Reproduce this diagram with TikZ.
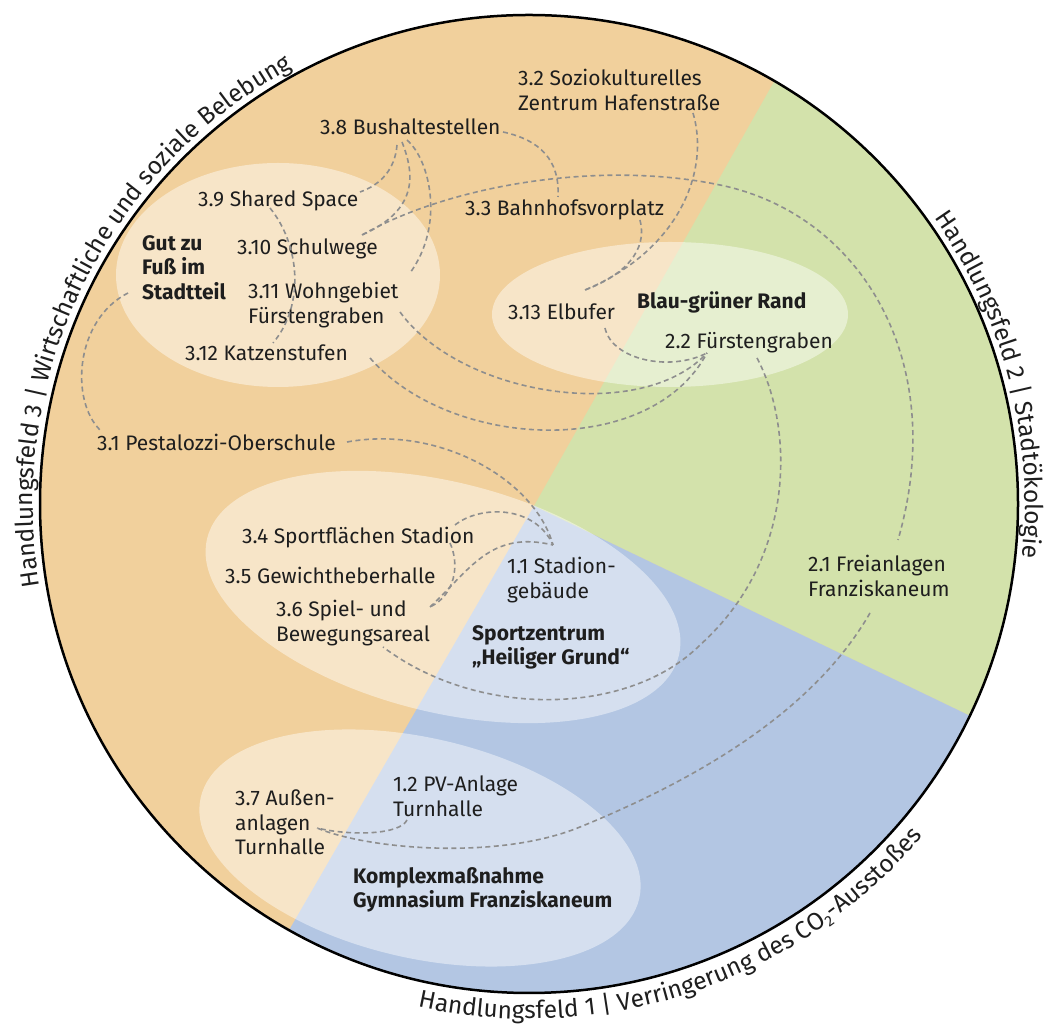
\documentclass[tikz,border=0pt]{standalone}
\usepackage{fontspec}
\setmainfont{Fira Sans}
\usetikzlibrary{decorations.text}
\definecolor{orng}{HTML}{F1D09C}
\definecolor{grn}{HTML}{D3E2AB}
\definecolor{blu}{HTML}{B3C6E3}
\definecolor{dashc}{HTML}{8E8E8E}
\definecolor{ink}{HTML}{1E1E1E}
\begin{document}
\begin{tikzpicture}[x=1pt,y=1pt,
  lbl/.style={anchor=north west, inner sep=0pt, align=left, text=ink, font=\fontsize{21}{24.5}\selectfont},
  ttl/.style={lbl, font=\fontsize{21}{24.5}\selectfont\bfseries},
  link/.style={draw=dashc, line width=1.6pt, dash pattern=on 5pt off 3.5pt},
  blob/.style={fill=white, fill opacity=0.45},
  arctext/.style={decorate, decoration={text along path, text align=center, text format delimiters={[}{]}, text color=ink}}
]
\useasboundingbox (0,0) rectangle (1053,1025);
\coordinate (C) at (529,521);
\coordinate (V) at (534,519);
% sectors
\begin{scope}
\clip (C) circle[radius=489];
\fill[orng] (C) circle[radius=489];
\fill[grn] (V) -- +(60.5:900) -- +(17:900) -- +(-25.7:900) -- cycle;
\fill[blu] (V) -- +(-25.7:900) -- +(-73:900) -- +(-120:900) -- cycle;
\end{scope}
% group ellipses
\fill[blob] (278,750) ellipse[x radius=162, y radius=112];
\fill[blob] (670,710.5) ellipse[x radius=178, y radius=72.5];
\fill[blob, rotate around={-14:(443,428)}] (443,428) ellipse[x radius=243, y radius=115];
\fill[blob, rotate around={-13:(420,177)}] (420,177) ellipse[x radius=225, y radius=110];
% outline
\draw[black, line width=2.5pt] (C) circle[radius=489];
% labels
\node[lbl] (n32) at (518,956) {3.2 Soziokulturelles\\Zentrum Hafenstraße};
\node[lbl] (n38) at (320,906) {3.8 Bushaltestellen};
\node[lbl] (n39) at (198,834) {3.9 Shared Space};
\node[lbl] (n310) at (237,786) {3.10 Schulwege};
\node[ttl] (ngut) at (142,790) {Gut zu\\Fuß im\\Stadtteil};
\node[lbl] (n311) at (248,743) {3.11 Wohngebiet\\Fürstengraben};
\node[lbl] (n312) at (185,680) {3.12 Katzenstufen};
\node[lbl] (n31) at (97,591) {3.1 Pestalozzi-Oberschule};
\node[lbl] (n33) at (465,825) {3.3 Bahnhofsvorplatz};
\node[lbl] (n313) at (508,721) {3.13 Elbufer};
\node[ttl] (nblau) at (637,733) {Blau-grüner Rand};
\node[lbl] (n22) at (665,693) {2.2 Fürstengraben};
\node[lbl] (n21) at (808,470) {2.1 Freianlagen\\Franziskaneum};
\node[lbl] (n34) at (242,498) {3.4 Sportflächen Stadion};
\node[lbl] (n35) at (225,458) {3.5 Gewichtheberhalle};
\node[lbl] (n36) at (276,425) {3.6 Spiel- und\\Bewegungsareal};
\node[lbl] (n11) at (507,468) {1.1 Stadion-\\gebäude};
\node[ttl] (nsport) at (472,400) {Sportzentrum\\„Heiliger Grund“};
\node[lbl] (n37) at (235,235) {3.7 Außen-\\anlagen\\Turnhalle};
\node[lbl] (n12) at (393,249) {1.2 PV-Anlage\\Turnhalle};
\node[ttl] (nkomplex) at (353,158) {Komplexmaßnahme\\Gymnasium Franziskaneum};
% connector ends
\coordinate (e38a) at (397,880);
\coordinate (e39) at (360,833);
\coordinate (e38b) at (402,883);
\coordinate (e310) at (362,790);
\coordinate (e38c) at (407,885);
\coordinate (e311t) at (410,752);
\coordinate (e38r) at (503,893);
\coordinate (e33t) at (558,828);
\coordinate (e39b) at (270,817);
\coordinate (e312t) at (273,682);
\coordinate (e21t) at (898,485);
\coordinate (e32) at (693,912);
\coordinate (e313a) at (585,735);
\coordinate (e33b) at (640,805);
\coordinate (e313b) at (605,697);
\coordinate (e22a) at (707,672);
\coordinate (e311r) at (400,713);
\coordinate (e312r) at (370,667);
\coordinate (e22b) at (757,667);
\coordinate (e36b) at (383,378);
\coordinate (egut) at (128,732);
\coordinate (e31l) at (100,595);
\coordinate (e31r) at (347,583);
\coordinate (e11) at (553,480);
\coordinate (e34) at (455,500);
\coordinate (e34b) at (450,482);
\coordinate (e36r) at (430,418);
\coordinate (e21b) at (870,412);
\coordinate (e37) at (317,197);
\coordinate (e12) at (407,205);
% connectors
\draw[link] (e38a) .. controls (395,855) and (380,840) .. (e39);
\draw[link] (e38b) .. controls (415,850) and (418,815) .. (e310);
\draw[link] (e38c) .. controls (430,865) and (445,800) .. (e311t);
\draw[link] (e38r) .. controls (540,885) and (560,865) .. (e33t);
\draw[link] (e39b) .. controls (300,780) and (305,720) .. (e312t);
\draw[link] (e310) .. controls (450,840) and (600,865) .. (720,840) .. controls (860,811) and (950,665) .. (e21t);
\draw[link] (e32) .. controls (710,855) and (680,775) .. (e313a);
\draw[link] (e33b) .. controls (648,775) and (625,750) .. (e313a);
\draw[link] (e313b) .. controls (612,665) and (670,653) .. (e22a);
\draw[link] (e311r) .. controls (460,630) and (640,600) .. (e22a);
\draw[link] (e312r) .. controls (450,575) and (650,565) .. (e22a);
\draw[link] (e22b) .. controls (795,595) and (795,465) .. (700,380) .. controls (630,310) and (480,305) .. (e36b);
\draw[link] (egut) .. controls (75,705) and (70,625) .. (e31l);
\draw[link] (e31r) .. controls (440,600) and (535,545) .. (e11);
\draw[link] (e34) .. controls (480,520) and (535,520) .. (e11);
\draw[link] (e36r) .. controls (470,455) and (490,495) .. (e11);
\draw[link] (e34b) .. controls (460,460) and (455,430) .. (e36r);
\draw[link] (e21b) .. controls (820,325) and (720,255) .. (580,198) .. controls (500,165) and (370,175) .. (e37);
\draw[link] (e12) .. controls (400,190) and (350,189) .. (e37);
% curved field titles
\path[arctext, decoration={text={[\fontsize{24.5}{24.5}\selectfont]Handlungsfeld 3 | Wirtschaftliche und soziale Belebung}}] (C) ++(233:496) arc[start angle=233, end angle=75, radius=496];
\path[arctext, decoration={text={[\fontsize{24.5}{24.5}\selectfont]Handlungsfeld 2 | Stadtökologie}}] (C) ++(60:496) arc[start angle=60, end angle=-31, radius=496];
\path[arctext, decoration={text={[\fontsize{24.5}{24.5}\selectfont]Handlungsfeld 1 | Verringerung des CO{\raisebox{-4pt}{\fontsize{15}{15}\selectfont 2}}-Ausstoßes}}] (C) ++(-141.3:515) arc[start angle=-141.3, end angle=-1.3, radius=515];
\end{tikzpicture}
\end{document}
